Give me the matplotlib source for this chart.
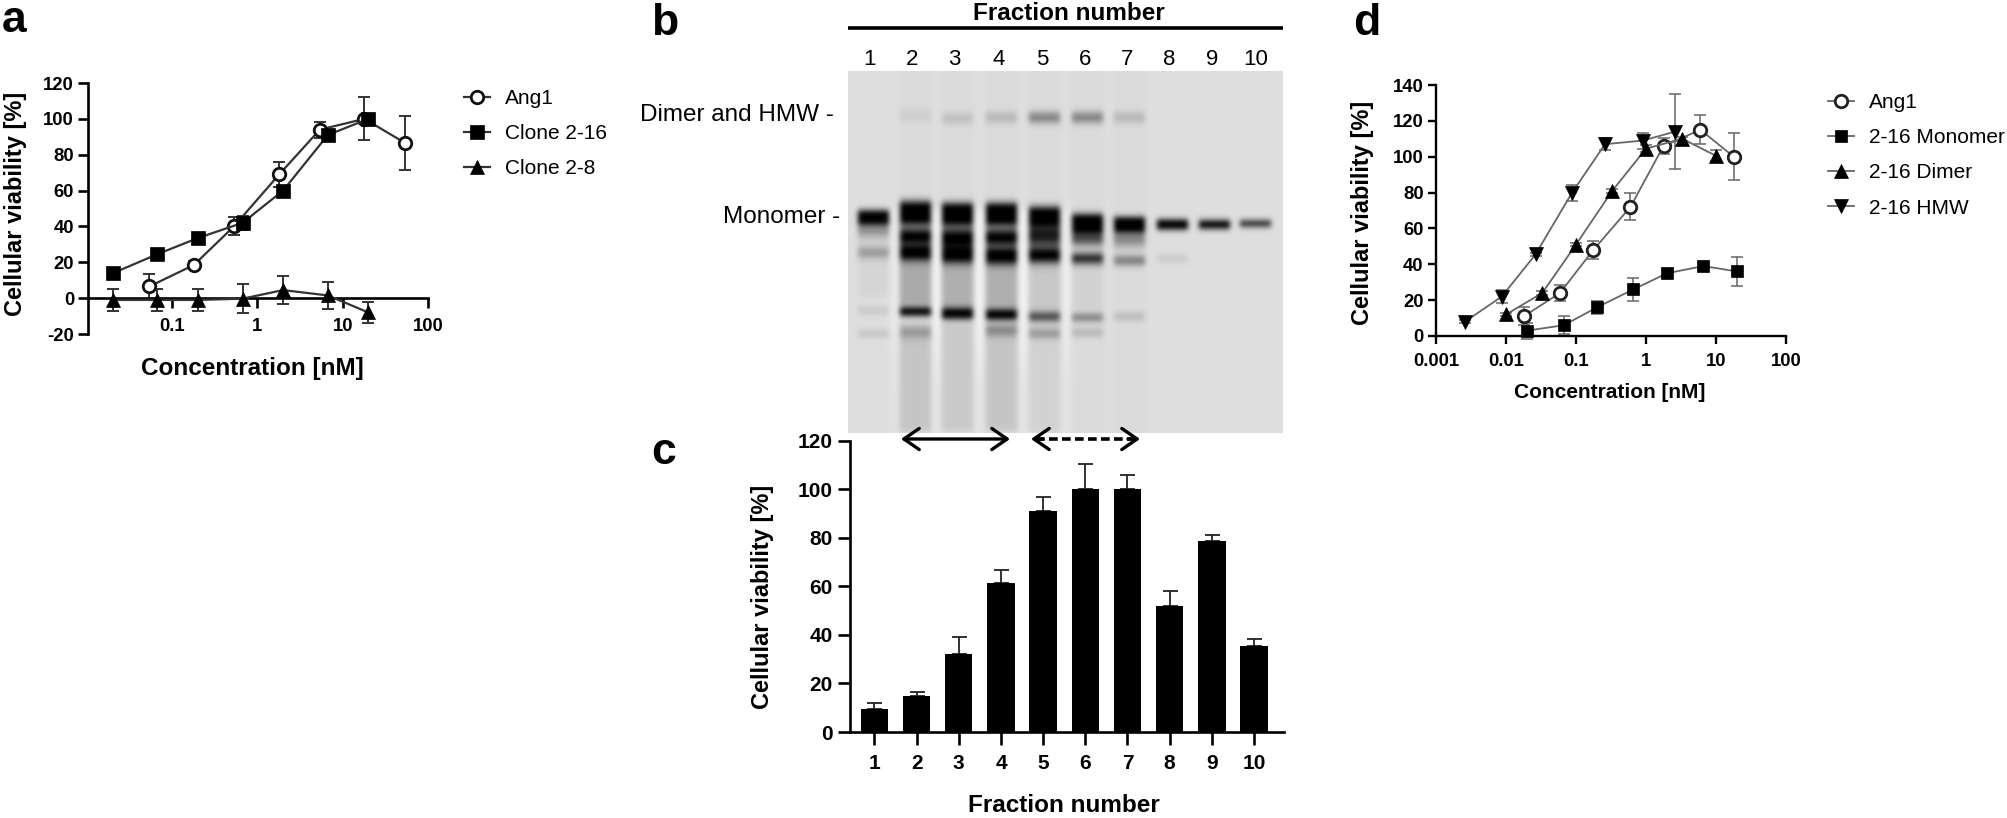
#!/usr/bin/env python
# -*- coding: utf-8 -*-
import numpy as np
import matplotlib
matplotlib.use('Agg')
import matplotlib.pyplot as plt

plt.rcParams['font.family'] = ['Liberation Sans', 'DejaVu Sans']
plt.rcParams['font.weight'] = 'bold'
plt.rcParams['axes.unicode_minus'] = False

W, H = 2007, 818

# panel a
a_x_ang1 = [0.054, 0.18, 0.53, 1.8, 5.4, 18, 54]
a_y_ang1 = [6.5, 18.5, 40, 69, 94, 100, 86.5]
a_e_ang1 = [7, 2, 5, 7, 4.5, 12, 15]
a_x_clone = [0.0204, 0.067, 0.2, 0.67, 2, 6.7, 20]
a_y_216 = [14, 24.5, 33.5, 42, 60, 91, 100]
a_e_216 = [1, 1, 1, 4, 2, 1, 1]
a_y_28 = [-1, -1, -1, -0.3, 4.5, 1.5, -8]
a_e_28 = [6, 6, 6, 8, 8, 7.5, 6]

# panel c
c_fraction = [1, 2, 3, 4, 5, 6, 7, 8, 9, 10]
c_value = [9.5, 15, 32, 61.5, 91, 100, 100, 52, 78.5, 35.5]
c_err = [2.3, 1.3, 7, 5.4, 6, 10.4, 6, 6.2, 2.7, 3]

# panel d
d_x_ang1 = [0.018, 0.059, 0.177, 0.6, 1.78, 6, 17.9]
d_y_ang1 = [11, 24, 48, 72, 106, 115, 100]
d_e_ang1 = [5, 4.5, 5, 7.5, 4.5, 8, 13]
d_x_mono = [0.02, 0.067, 0.2, 0.66, 2, 6.6, 20]
d_y_mono = [3, 6, 16, 26, 35, 39, 36]
d_e_mono = [4.5, 5, 3.5, 6.5, 2.5, 2, 8]
d_x_dimer = [0.01, 0.033, 0.1, 0.33, 1, 3.3, 10]
d_y_dimer = [12, 24, 51, 81, 104.5, 110, 100.5]
d_e_dimer = [1, 1, 1, 1, 2, 1, 3]
d_x_hmw = [0.0026, 0.0087, 0.0264, 0.088, 0.26, 0.9, 2.6]
d_y_hmw = [8, 22, 45.5, 80, 107, 109, 114]
d_e_hmw = [1, 3.5, 1, 4.5, 3.5, 4.5, 21]

# gel, read by eye: lane centre, then (row, darkness, sigma) for each band
gel_lanes = [25, 67, 109, 153, 196, 239, 281, 324, 366, 407]
gel_labels = ['1', '2', '3', '4', '5', '6', '7', '8', '9', '10']
gel_bands = [
    [(217, 2.2, 4), (230, .35, 5), (252, .28, 4), (310, .1, 3), (333, .12, 3)],
    [(205, .7, 4), (214, 1.7, 5), (236, .8, 5), (253, 1.2, 5), (311, 1.2, 3), (332, .22, 4), (115, .07, 4)],
    [(207, .7, 4), (215, 1.7, 5), (238, .85, 6), (255, 1.2, 5), (313, 1.5, 3.5), (118, .13, 4)],
    [(207, .7, 4), (215, 1.7, 5), (237, .8, 5), (256, 1.2, 5), (314, 1.4, 3.5), (330, .3, 4), (117, .17, 4)],
    [(210, .4, 4), (217, 1.8, 5), (235, .6, 7), (256, 1.0, 5), (316, .7, 3.5), (333, .28, 3.5), (117, .42, 4)],
    [(223, 2.6, 5), (238, .65, 5), (258, .85, 4), (317, .42, 3), (332, .18, 3), (117, .42, 4)],
    [(224, 2.6, 4), (238, .4, 6), (260, .45, 3.5), (316, .15, 3), (117, .17, 4)],
    [(224, 1.8, 3), (258, .09, 3)],
    [(224, 1.2, 3)],
    [(223, .85, 2.5)],
]
# (top row, bottom row, darkness) smear under the bands
gel_smears = [
    [(235, 300, .04)],
    [(212, 258, .3), (258, 308, .22), (320, 433, .1)],
    [(212, 260, .3), (258, 310, .2), (320, 433, .08)],
    [(212, 260, .3), (258, 310, .2), (320, 433, .1)],
    [(222, 258, .3), (262, 312, .09), (320, 433, .04)],
    [(262, 312, .04)],
    [], [], [], [],
]


def px_axes(left, top, right, bottom):
    return fig.add_axes([left / W, 1 - bottom / H, (right - left) / W, (bottom - top) / H])


def px_text(x, y, s, **kw):
    kw.setdefault('ha', 'center')
    kw.setdefault('va', 'center')
    fig.text(x / W, 1 - y / H, s, **kw)


def draw_series(ax, x, y, err, marker, label, ms, lw, color, ecolor):
    ax.errorbar(x, y, yerr=err, fmt='none', ecolor=ecolor, elinewidth=lw, capsize=4, capthick=lw, zorder=2)
    mfc = 'white' if marker == 'o' else color
    ax.plot(x, y, '-', color=ecolor, lw=lw + 0.2, zorder=3, label=label, marker=marker,
            ms=ms, mfc=mfc, mec=color, mew=2.0 if marker == 'o' else 0.5)


def style_axes(ax, lw, length, labelsize=13.3):
    ax.spines['top'].set_visible(False)
    ax.spines['right'].set_visible(False)
    ax.spines['left'].set_linewidth(lw)
    ax.spines['bottom'].set_linewidth(lw)
    ax.tick_params(axis='both', width=lw, length=length, labelsize=labelsize, pad=3)
    ax.patch.set_alpha(0)


def blur(img, sigma):
    reach = int(3 * sigma)
    kernel = np.exp(-0.5 * (np.arange(-reach, reach + 1) / sigma) ** 2)
    kernel /= kernel.sum()
    padded = np.pad(img, reach, mode='edge')
    out = np.apply_along_axis(lambda c: np.convolve(c, kernel, mode='same'), 0, padded)
    out = np.apply_along_axis(lambda r: np.convolve(r, kernel, mode='same'), 1, out)
    return out[reach:-reach, reach:-reach]


def build_gel():
    rows = np.arange(71, 433)
    cols = np.arange(435)
    img = np.full((rows.size, cols.size), 0.87)
    for lane, bands, smears in zip(gel_lanes, gel_bands, gel_smears):
        profile = np.clip((17 - np.abs(cols - lane)) / 3.0, 0, 1)
        dark = np.zeros(rows.size)
        for row, d, s in bands:
            dark += d * np.exp(-0.5 * ((rows - row) / s) ** 2)
        for top, bottom, d in smears:
            dark += d * np.clip((rows - top) / 6.0, 0, 1) * np.clip((bottom - rows) / 6.0, 0, 1)
        img -= np.outer(np.clip(dark, 0, 1), profile) * 0.87
    # pale gaps beside the heavily loaded lanes
    for gap, strength in zip([46, 88, 131, 175, 218], [.05, .09, .09, .09, .07]):
        streak = np.exp(-0.5 * ((cols - gap) / 3.0) ** 2)
        reach = np.clip((rows - 205) / 8.0, 0, 1) * np.clip((433 - rows) / 120.0, 0.35, 1)
        img += np.outer(reach, streak) * strength
    # faint lane tint in the clear top part of the gel
    for lane in gel_lanes[1:7]:
        img -= 0.012 * np.outer(np.ones(rows.size), np.clip((19 - np.abs(cols - lane)) / 4.0, 0, 1))
    return np.clip(blur(img, 2.4), 0, 1)


fig = plt.figure(figsize=(W / 100, H / 100), dpi=100)

# a
ax_a = px_axes(88, 83, 428, 334)
draw_series(ax_a, a_x_ang1, a_y_ang1, a_e_ang1, 'o', 'Ang1', 9, 1.4, '#111111', '#333333')
draw_series(ax_a, a_x_clone, a_y_216, a_e_216, 's', 'Clone 2-16', 10, 1.4, '#000000', '#333333')
draw_series(ax_a, a_x_clone, a_y_28, a_e_28, '^', 'Clone 2-8', 10, 1.4, '#000000', '#333333')
ax_a.set_xscale('log')
ax_a.set_xlim(10 ** -1.986, 100)
ax_a.set_ylim(-20, 120)
style_axes(ax_a, 1.9, 7)
ax_a.spines['bottom'].set_position(('data', 0))
ax_a.set_xticks([0.1, 1, 10, 100], ['0.1', '1', '10', '100'])
ax_a.minorticks_off()
ax_a.set_yticks(np.arange(-20, 121, 20))
ax_a.tick_params(axis='x', pad=7)
ax_a.legend(loc='upper left', bbox_to_anchor=(464 / W, 1 - 89 / H), bbox_transform=fig.transFigure,
            frameon=False, prop={'size': 15, 'weight': 'normal'}, handlelength=1.25,
            handletextpad=0.72, labelspacing=0.78, borderpad=0, borderaxespad=0)
px_text(16, 204, 'Cellular viability [%]', rotation=90, fontsize=17)
px_text(252, 368, 'Concentration [nM]', fontsize=17.5)

# b
ax_b = px_axes(848, 71, 1283, 433)
ax_b.imshow(build_gel(), cmap='gray', vmin=0, vmax=1, aspect='auto', interpolation='bilinear')
ax_b.set_xticks([21, 64, 106, 150, 194, 237, 279, 321, 364, 407], gel_labels)
ax_b.set_yticks([])
ax_b.xaxis.tick_top()
ax_b.tick_params(axis='x', length=0, pad=1, labelsize=16)
for label in ax_b.get_xticklabels():
    label.set_fontweight('normal')
for spine in ax_b.spines.values():
    spine.set_visible(False)
px_text(1069, 13, 'Fraction number', fontsize=17.5)
px_text(834, 115, 'Dimer and HMW -', ha='right', fontsize=17.5, fontweight='normal')
px_text(840, 217, 'Monomer -', ha='right', fontsize=17.5, fontweight='normal')

# c
ax_c = px_axes(849.5, 440.7, 1284, 732)
ax_c.bar(c_fraction, c_value, width=0.65, color='black', zorder=2)
ax_c.errorbar(c_fraction, c_value, yerr=[np.zeros(10), c_err], fmt='none', ecolor='#222222',
              elinewidth=1.3, capsize=5.4, capthick=1.3, zorder=1)
ax_c.set_xlim(0.41, 10.71)
ax_c.set_ylim(0, 120)
style_axes(ax_c, 1.9, 9, labelsize=15)
ax_c.set_xticks(c_fraction)
ax_c.set_yticks(np.arange(0, 121, 20))
ax_c.tick_params(axis='x', pad=7)
px_text(763, 597, 'Cellular viability [%]', rotation=90, fontsize=17)
px_text(1064, 806, 'Fraction number', fontsize=17.5)

# d
ax_d = px_axes(1436, 85, 1786, 336)
draw_series(ax_d, d_x_ang1, d_y_ang1, d_e_ang1, 'o', 'Ang1', 9, 1.1, '#222222', '#666666')
draw_series(ax_d, d_x_mono, d_y_mono, d_e_mono, 's', '2-16 Monomer', 9, 1.1, '#000000', '#666666')
draw_series(ax_d, d_x_dimer, d_y_dimer, d_e_dimer, '^', '2-16 Dimer', 10, 1.1, '#000000', '#666666')
draw_series(ax_d, d_x_hmw, d_y_hmw, d_e_hmw, 'v', '2-16 HMW', 10, 1.1, '#000000', '#666666')
ax_d.set_xscale('log')
ax_d.set_xlim(0.001, 100)
ax_d.set_ylim(0, 140)
style_axes(ax_d, 1.7, 6)
ax_d.set_xticks([0.001, 0.01, 0.1, 1, 10, 100], ['0.001', '0.01', '0.1', '1', '10', '100'])
ax_d.minorticks_off()
ax_d.set_yticks(np.arange(0, 141, 20))
ax_d.tick_params(axis='x', pad=6)
for line in ax_d.get_lines():
    line.set_clip_on(False)
ax_d.legend(loc='upper left', bbox_to_anchor=(1828 / W, 1 - 93 / H), bbox_transform=fig.transFigure,
            frameon=False, prop={'size': 15, 'weight': 'normal'}, handlelength=1.25,
            handletextpad=0.72, labelspacing=0.78, borderpad=0, borderaxespad=0)
px_text(1363, 213, 'Cellular viability [%]', rotation=90, fontsize=17)
px_text(1610, 392, 'Concentration [nM]', fontsize=15)

# overlay for the rule above the gel and the two fraction arrows
over = fig.add_axes([0, 0, 1, 1])
over.set_xlim(0, W)
over.set_ylim(H, 0)
over.axis('off')
over.plot([848, 1283], [28, 28], color='black', lw=2.6, solid_capstyle='butt')
head = '->,head_length=0.55,head_width=0.38'
over.annotate('', xy=(901, 439), xytext=(1010, 439),
              arrowprops=dict(arrowstyle='<->,head_length=0.55,head_width=0.38', color='black', lw=2.4,
                              shrinkA=0, shrinkB=0, mutation_scale=20))
over.plot([1036, 1134], [439, 439], color='black', lw=2.6, ls=(0, (2.4, 1.2)))
for tip, tail in [(1031, 1043), (1140, 1128)]:
    over.annotate('', xy=(tip, 439), xytext=(tail, 439),
                  arrowprops=dict(arrowstyle=head, color='black', lw=2.4, shrinkA=0, shrinkB=0,
                                  mutation_scale=20))

# panel letters
px_text(2, 32, 'a', ha='left', va='baseline', fontsize=32)
px_text(651, 35, 'b', ha='left', va='baseline', fontsize=32)
px_text(651, 464, 'c', ha='left', va='baseline', fontsize=32)
px_text(1353, 35, 'd', ha='left', va='baseline', fontsize=32)

fig.savefig('out.png', dpi=100)
